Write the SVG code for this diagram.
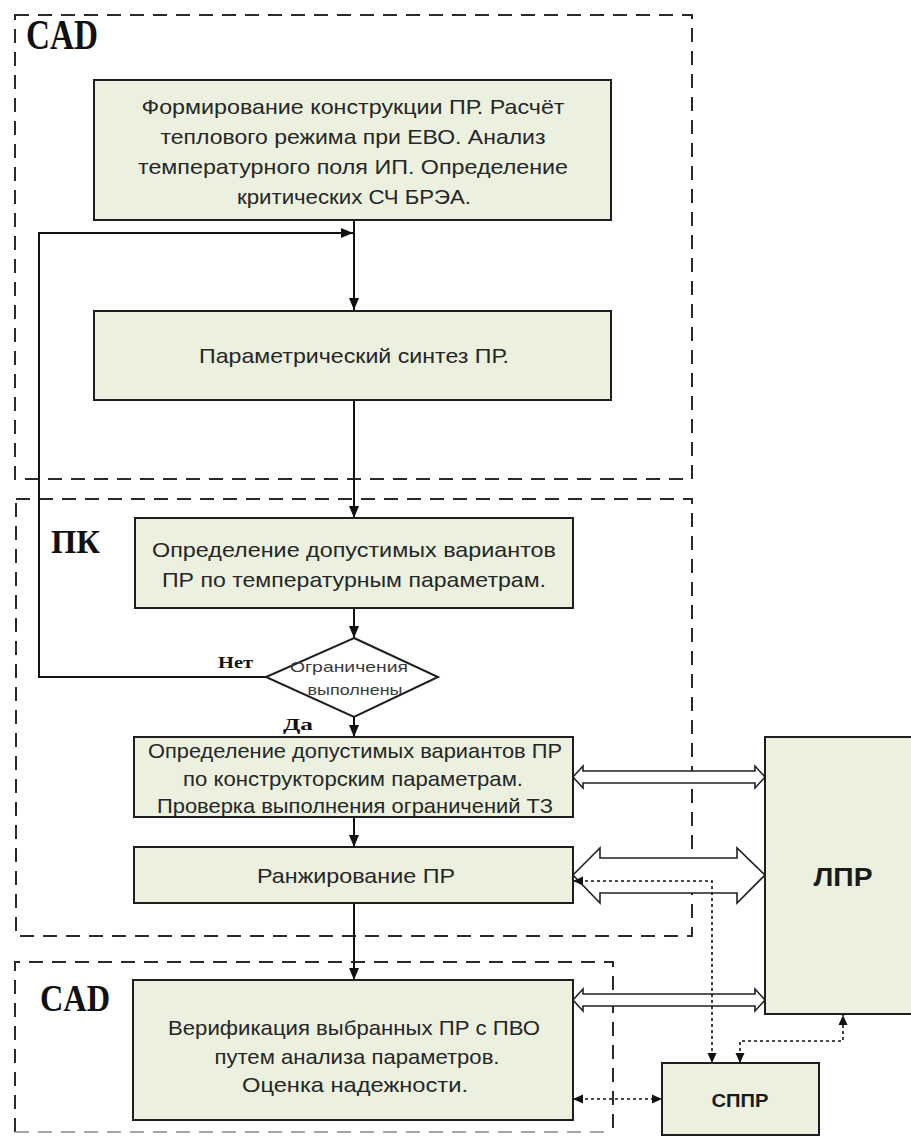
<svg xmlns="http://www.w3.org/2000/svg" width="911" height="1137" viewBox="0 0 911 1137">
<defs>
<style>
.box{fill:#ebf1de;stroke:#1e1e1e;stroke-width:2}
.zone{fill:none;stroke:#2a2a2a;stroke-width:2;stroke-dasharray:14 9}
.t{font-family:"Liberation Sans",Arial,sans-serif;font-size:21px;fill:#262626;text-anchor:middle}
.dt{font-family:"Liberation Sans",Arial,sans-serif;font-size:15px;fill:#3a3a3a;text-anchor:middle}
.b{font-family:"Liberation Sans",Arial,sans-serif;font-weight:bold;fill:#1a1a1a;text-anchor:middle}
.lbl{font-family:"Liberation Serif","Times New Roman",serif;font-weight:bold;fill:#111}
.flow{fill:none;stroke:#111;stroke-width:2}
.dot{fill:none;stroke:#111;stroke-width:1.6;stroke-dasharray:3 3}
.dbl{fill:#fff;stroke:#222;stroke-width:1.6}
</style>
<marker id="ah" markerWidth="12" markerHeight="12" refX="12" refY="6" orient="auto-start-reverse" markerUnits="userSpaceOnUse">
<path d="M0,1 L12,6 L0,11 Z" fill="#111"/>
</marker>
<marker id="ahs" markerWidth="10" markerHeight="10" refX="10" refY="5" orient="auto-start-reverse" markerUnits="userSpaceOnUse">
<path d="M0,0.5 L10,5 L0,9.5 Z" fill="#111"/>
</marker>
</defs>
<rect width="911" height="1137" fill="#fff"/>

<g id="zones">
<rect class="zone" x="15" y="15" width="677" height="464"/>
<rect class="zone" x="16" y="499" width="676" height="437"/>
<path class="zone" d="M15,1132 L15,962 L613,962 L613,1137"/>
<path d="M15,1132 L613,1132" fill="none" stroke="#888" stroke-width="1.5" stroke-dasharray="14 9"/>
<text class="lbl" x="26" y="49" font-size="42" textLength="72" lengthAdjust="spacingAndGlyphs">CAD</text>
<text class="lbl" x="51" y="553" font-size="34" textLength="49" lengthAdjust="spacingAndGlyphs">ПК</text>
<text class="lbl" x="40" y="1011" font-size="38" textLength="70" lengthAdjust="spacingAndGlyphs">CAD</text>
</g>

<g id="connectors">
<path class="flow" d="M354,220 L354,310" marker-end="url(#ah)"/>
<path class="flow" d="M354,401 L354,518" marker-end="url(#ah)"/>
<path class="flow" d="M354,608 L354,638" marker-end="url(#ah)"/>
<path class="flow" d="M354,717 L354,737" marker-end="url(#ah)"/>
<path class="flow" d="M354,817 L354,847" marker-end="url(#ah)"/>
<path class="flow" d="M354,903 L354,980" marker-end="url(#ah)"/>
<path class="flow" d="M266,677 L39,677 L39,233 L353,233" marker-end="url(#ah)"/>
<text class="lbl" x="218" y="668" font-size="17" textLength="35" lengthAdjust="spacingAndGlyphs">Нет</text>
<text class="lbl" x="283" y="730" font-size="17" textLength="30" lengthAdjust="spacingAndGlyphs">Да</text>
<polygon class="dbl" points="573,777 583,766 583,771 755,771 755,766 765,777 755,788 755,783 583,783 583,788"/>
<polygon class="dbl" points="573,1000 583,989 583,994 755,994 755,989 765,1000 755,1011 755,1006 583,1006 583,1011"/>
<polygon class="dbl" points="573,875 600,848 600,858 737,858 737,848 765,875 737,903 737,893 600,893 600,903"/>
<path class="dot" d="M712,1063 L712,881 L573,881" marker-start="url(#ahs)" marker-end="url(#ahs)"/>
<path class="dot" d="M740,1063 L740,1041 L843,1041 L843,1015" marker-start="url(#ahs)" marker-end="url(#ahs)"/>
<path class="dot" d="M573,1099 L662,1099" marker-start="url(#ahs)" marker-end="url(#ahs)"/>
</g>

<g id="n1">
<rect class="box" x="94" y="80" width="517" height="140"/>
<text class="t" x="353" y="114" textLength="423" lengthAdjust="spacingAndGlyphs">Формирование конструкции ПР. Расчёт</text>
<text class="t" x="353" y="144" textLength="385" lengthAdjust="spacingAndGlyphs">теплового режима при ЕВО. Анализ</text>
<text class="t" x="353" y="174" textLength="430" lengthAdjust="spacingAndGlyphs">температурного поля ИП. Определение</text>
<text class="t" x="354" y="204" textLength="234" lengthAdjust="spacingAndGlyphs">критических СЧ БРЭА.</text>
</g>

<g id="n2">
<rect class="box" x="94" y="311" width="517" height="89"/>
<text class="t" x="354" y="363" textLength="310" lengthAdjust="spacingAndGlyphs">Параметрический синтез ПР.</text>
</g>

<g id="n3">
<rect class="box" x="135" y="518" width="438" height="90"/>
<text class="t" x="354" y="557" textLength="404" lengthAdjust="spacingAndGlyphs">Определение допустимых вариантов</text>
<text class="t" x="354" y="587" textLength="384" lengthAdjust="spacingAndGlyphs">ПР по температурным параметрам.</text>
</g>

<g id="n4">
<polygon points="354,638 438,677 354,717 266,677" fill="#fff" stroke="#1e1e1e" stroke-width="2"/>
<text class="dt" x="349" y="672" textLength="118" lengthAdjust="spacingAndGlyphs">Ограничения</text>
<text class="dt" x="355" y="695" textLength="95" lengthAdjust="spacingAndGlyphs">выполнены</text>
</g>

<g id="n5">
<rect class="box" x="134" y="737" width="439" height="80"/>
<text class="t" x="355" y="758" textLength="414" lengthAdjust="spacingAndGlyphs">Определение допустимых вариантов ПР</text>
<text class="t" x="353" y="786" textLength="340" lengthAdjust="spacingAndGlyphs">по конструкторским параметрам.</text>
<text class="t" x="355" y="813" textLength="396" lengthAdjust="spacingAndGlyphs">Проверка выполнения ограничений ТЗ</text>
</g>

<g id="n6">
<rect class="box" x="134" y="847" width="439" height="56"/>
<text class="t" x="356" y="883" textLength="198" lengthAdjust="spacingAndGlyphs">Ранжирование ПР</text>
</g>

<g id="n7">
<rect class="box" x="133" y="980" width="440" height="140"/>
<text class="t" x="354" y="1035" textLength="372" lengthAdjust="spacingAndGlyphs">Верификация выбранных ПР с ПВО</text>
<text class="t" x="357" y="1064" textLength="285" lengthAdjust="spacingAndGlyphs">путем анализа параметров.</text>
<text class="t" x="355" y="1092" textLength="226" lengthAdjust="spacingAndGlyphs">Оценка надежности.</text>
</g>

<g id="n8">
<rect class="box" x="765" y="737" width="150" height="277"/>
<text class="b" x="843" y="886" font-size="26" textLength="59" lengthAdjust="spacingAndGlyphs">ЛПР</text>
</g>

<g id="n9">
<rect class="box" x="662" y="1063" width="157" height="72"/>
<text class="b" x="740" y="1107" font-size="19" textLength="57" lengthAdjust="spacingAndGlyphs">СППР</text>
</g>
</svg>
